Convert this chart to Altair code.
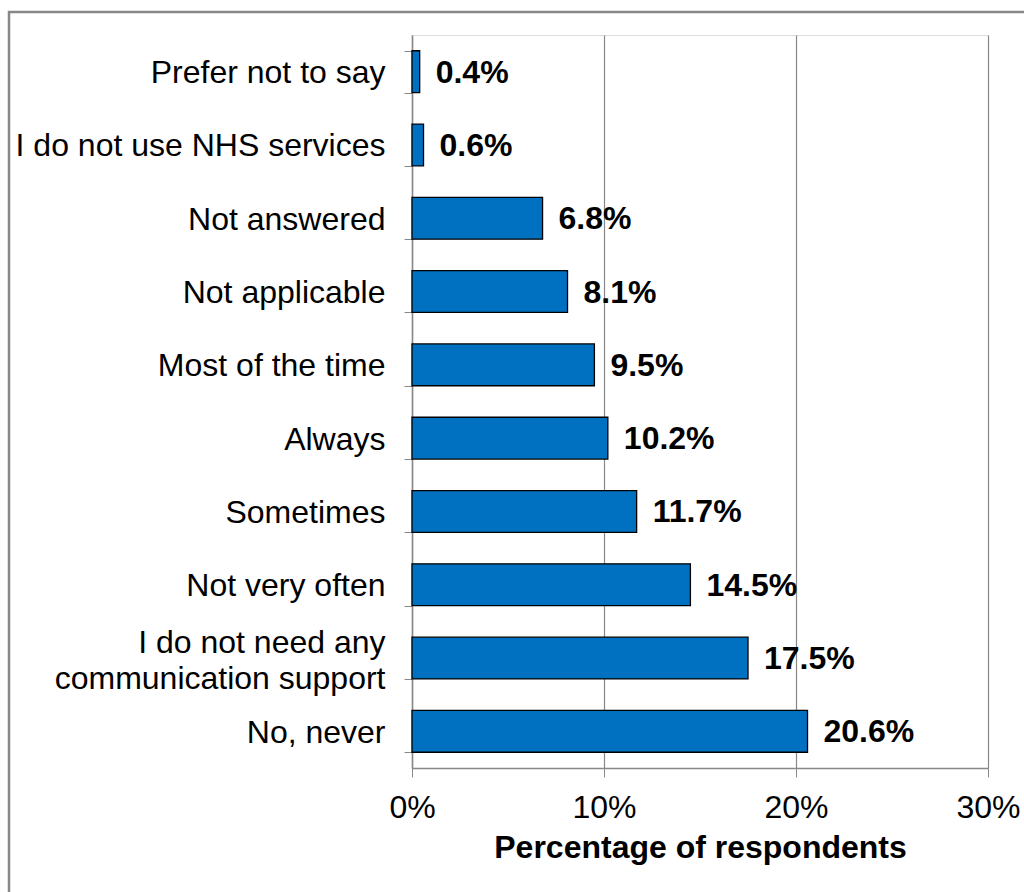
import altair as alt
import pandas as pd

categories = [
    "Prefer not to say",
    "I do not use NHS services",
    "Not answered",
    "Not applicable",
    "Most of the time",
    "Always",
    "Sometimes",
    "Not very often",
    "I do not need any communication support",
    "No, never",
]
values = [0.4, 0.6, 6.8, 8.1, 9.5, 10.2, 11.7, 14.5, 17.5, 20.6]
x_ticks = [0, 0.1, 0.2, 0.3]

df = pd.DataFrame({"category": categories, "value": [v / 100 for v in values]})

FONT = "Liberation Sans"
FS = 32
MULTI = "I do not need any communication support"

y_enc = alt.Y(
    "category:N",
    sort=categories,
    title=None,
    scale=alt.Scale(paddingInner=0.43, paddingOuter=0.215),
    axis=alt.Axis(
        tickBand="extent",
        tickSize=8,
        tickColor="#888888",
        domainColor="#888888",
        domainWidth=1.5,
        labelPadding=19,
        labelFont=FONT,
        labelFontSize=FS,
        labelColor="#000000",
        labelLineHeight=36,
        labelLimit=0,
        labelOffset={"condition": {"test": f"datum.value == '{MULTI}'", "value": -16}, "value": 1},
        grid=False,
        labelExpr=f"datum.value == '{MULTI}' ? ['I do not need any', 'communication support'] : datum.value",
    ),
)

x_enc = alt.X(
    "value:Q",
    scale=alt.Scale(domain=[0, 0.3]),
    title="Percentage of respondents",
    axis=alt.Axis(
        values=x_ticks,
        format=".0%",
        tickSize=9,
        tickColor="#888888",
        domainColor="#888888",
        domainWidth=1.5,
        gridColor="#888888",
        gridWidth=1.2,
        labelFlush=False,
        labelPadding=15,
        labelFont=FONT,
        labelFontSize=FS,
        labelColor="#000000",
        titleFont=FONT,
        titleFontSize=FS,
        titleFontWeight="bold",
        titleColor="#000000",
        titlePadding=9,
    ),
)

bars = alt.Chart(df).mark_bar(color="#0070C0", stroke="#000000", strokeWidth=1.3).encode(
    x=x_enc, y=y_enc
)

labels = alt.Chart(df).mark_text(
    align="left", baseline="middle", dx=16, dy=1,
    font=FONT, fontSize=FS, fontWeight="bold", color="#000000"
).encode(
    x="value:Q",
    y=alt.Y("category:N", sort=categories),
    text=alt.Text("value:Q", format=".1%"),
)

frame = alt.Chart(pd.DataFrame({"a": [0]})).mark_rect(
    fill=None, stroke="#888888", strokeWidth=2.5, clip=False
).encode(
    x=alt.value(-403), x2=alt.value(700), y=alt.value(-23), y2=alt.value(900)
)

chart = alt.layer(frame, bars, labels).properties(
    width=576,
    height=733,
    autosize=alt.AutoSizeParams(type="none"),
    padding={"left": 412, "top": 35, "right": 36, "bottom": 124},
).configure_view(stroke=None).configure(background="white")

chart.save("out.html", embed_options={"renderer": "svg", "actions": False})
